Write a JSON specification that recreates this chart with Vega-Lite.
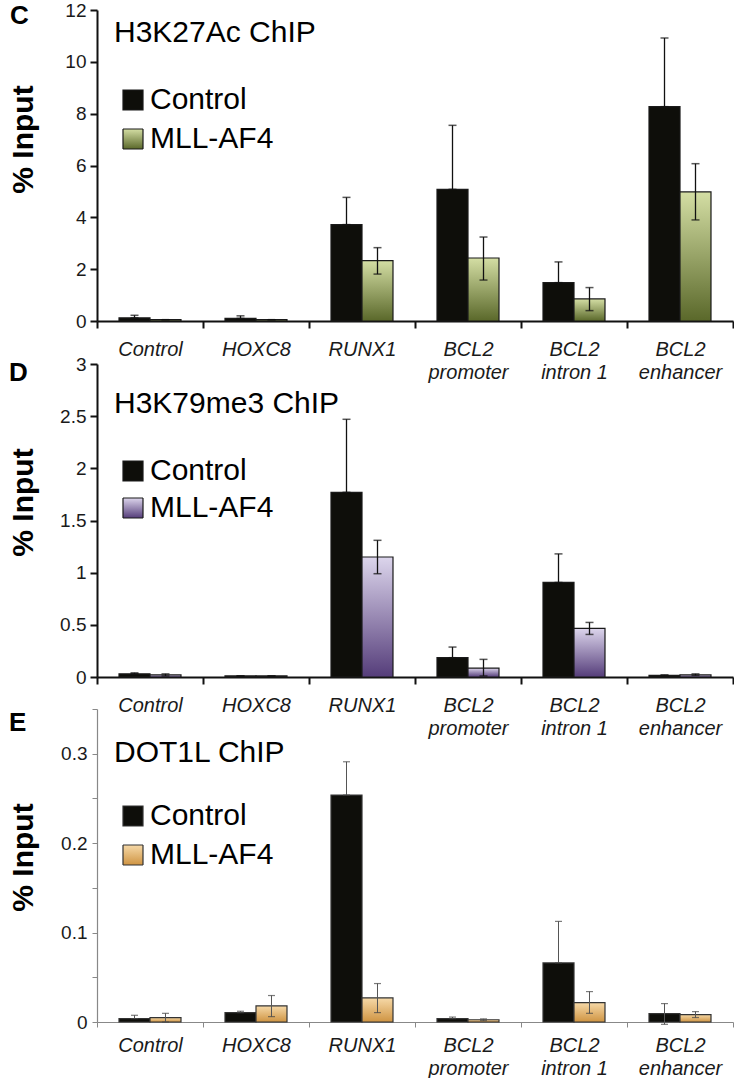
{
  "$schema": "https://vega.github.io/schema/vega-lite/v6.json",
  "padding": {"left": 8, "top": 1, "right": 0, "bottom": 0},
  "background": "white",
  "bounds": "flush",
  "spacing": 32,
  "resolve": {"scale": {"stroke": "independent", "strokeDash": "independent"}, "legend": {"stroke": "independent", "strokeDash": "independent"}},
  "config": {"view": {"stroke": null}, "font": "Liberation Sans",
    "legend": {"orient": "none", "titleLimit": 500, "titleFontSize": 30, "titleFontWeight": "normal", "titleFont": "Liberation Sans", "titleColor": "#000", "titlePadding": 37, "labelFontSize": 30, "labelFont": "Liberation Sans", "labelColor": "#000", "labelOffset": 2, "symbolType": "square", "symbolSize": 400, "symbolStrokeWidth": 1.2, "symbolOffset": 4, "legendX": 17}},
  "datasets": {
    "c": [
      {"gene": "Control", "group": "Control", "value": 0.12, "lo": 0.12, "hi": 0.22},
      {"gene": "Control", "group": "MLL-AF4", "value": 0.05, "lo": 0.05, "hi": 0.05},
      {"gene": "HOXC8", "group": "Control", "value": 0.10, "lo": 0.10, "hi": 0.20},
      {"gene": "HOXC8", "group": "MLL-AF4", "value": 0.05, "lo": 0.05, "hi": 0.05},
      {"gene": "RUNX1", "group": "Control", "value": 3.72, "lo": 3.72, "hi": 4.77},
      {"gene": "RUNX1", "group": "MLL-AF4", "value": 2.33, "lo": 1.81, "hi": 2.83},
      {"gene": "BCL2|promoter", "group": "Control", "value": 5.08, "lo": 5.08, "hi": 7.55},
      {"gene": "BCL2|promoter", "group": "MLL-AF4", "value": 2.43, "lo": 1.58, "hi": 3.24},
      {"gene": "BCL2|intron 1", "group": "Control", "value": 1.48, "lo": 1.48, "hi": 2.28},
      {"gene": "BCL2|intron 1", "group": "MLL-AF4", "value": 0.85, "lo": 0.40, "hi": 1.29},
      {"gene": "BCL2|enhancer", "group": "Control", "value": 8.27, "lo": 8.27, "hi": 10.92},
      {"gene": "BCL2|enhancer", "group": "MLL-AF4", "value": 4.98, "lo": 3.90, "hi": 6.07}
    ],
    "d": [
      {"gene": "Control", "group": "Control", "value": 0.03, "lo": 0.03, "hi": 0.04},
      {"gene": "Control", "group": "MLL-AF4", "value": 0.02, "lo": 0.01, "hi": 0.03},
      {"gene": "HOXC8", "group": "Control", "value": 0.01, "lo": 0.01, "hi": 0.01},
      {"gene": "HOXC8", "group": "MLL-AF4", "value": 0.01, "lo": 0.01, "hi": 0.01},
      {"gene": "RUNX1", "group": "Control", "value": 1.77, "lo": 1.77, "hi": 2.47},
      {"gene": "RUNX1", "group": "MLL-AF4", "value": 1.15, "lo": 0.99, "hi": 1.31},
      {"gene": "BCL2|promoter", "group": "Control", "value": 0.185, "lo": 0.185, "hi": 0.287},
      {"gene": "BCL2|promoter", "group": "MLL-AF4", "value": 0.086, "lo": 0.01, "hi": 0.169},
      {"gene": "BCL2|intron 1", "group": "Control", "value": 0.906, "lo": 0.906, "hi": 1.18},
      {"gene": "BCL2|intron 1", "group": "MLL-AF4", "value": 0.466, "lo": 0.408, "hi": 0.523},
      {"gene": "BCL2|enhancer", "group": "Control", "value": 0.015, "lo": 0.015, "hi": 0.02},
      {"gene": "BCL2|enhancer", "group": "MLL-AF4", "value": 0.02, "lo": 0.015, "hi": 0.03}
    ],
    "e": [
      {"gene": "Control", "group": "Control", "value": 0.0038, "lo": 0.0038, "hi": 0.0075},
      {"gene": "Control", "group": "MLL-AF4", "value": 0.0049, "lo": 0.0, "hi": 0.0097},
      {"gene": "HOXC8", "group": "Control", "value": 0.0105, "lo": 0.0105, "hi": 0.012},
      {"gene": "HOXC8", "group": "MLL-AF4", "value": 0.018, "lo": 0.006, "hi": 0.0296},
      {"gene": "RUNX1", "group": "Control", "value": 0.2538, "lo": 0.2538, "hi": 0.291},
      {"gene": "RUNX1", "group": "MLL-AF4", "value": 0.0269, "lo": 0.0105, "hi": 0.043},
      {"gene": "BCL2|promoter", "group": "Control", "value": 0.0038, "lo": 0.0038, "hi": 0.0055},
      {"gene": "BCL2|promoter", "group": "MLL-AF4", "value": 0.0025, "lo": 0.0015, "hi": 0.0035},
      {"gene": "BCL2|intron 1", "group": "Control", "value": 0.0661, "lo": 0.0661, "hi": 0.1125},
      {"gene": "BCL2|intron 1", "group": "MLL-AF4", "value": 0.0217, "lo": 0.0097, "hi": 0.034},
      {"gene": "BCL2|enhancer", "group": "Control", "value": 0.0094, "lo": -0.0026, "hi": 0.0206},
      {"gene": "BCL2|enhancer", "group": "MLL-AF4", "value": 0.0083, "lo": 0.005, "hi": 0.0116}
    ]
  },
  "vconcat": [
    {
      "data": {"name": "c"},
      "width": 636,
      "height": 311,
      "title": {"text": "C", "anchor": "start", "frame": "group", "dx": -87, "offset": -28, "fontSize": 26, "fontWeight": "bold", "font": "Liberation Sans", "color": "#000"},
      "encoding": {
        "x": {"field": "gene", "type": "nominal", "sort": null, "scale": {"paddingInner": 0, "paddingOuter": 0},
          "axis": {"title": null, "labelExpr": "isValid(datum.value) ? split(datum.value, '|') : ''", "labelAngle": 0, "labelFontStyle": "italic", "labelFontSize": 20, "labelFont": "Liberation Sans", "labelColor": "#1a1a1a", "labelLineHeight": 23, "labelPadding": 11, "tickBand": "extent", "tickSize": 7, "tickWidth": 2, "tickColor": "#111", "domainColor": "#111", "domainWidth": 2}},
        "xOffset": {"field": "group", "sort": null, "scale": {"domain": ["Control", "MLL-AF4"], "paddingInner": 0, "paddingOuter": 0.71}},
        "y": {"field": "value", "type": "quantitative", "scale": {"domain": [0, 12], "nice": false},
          "axis": {"values": [0, 2, 4, 6, 8, 10, 12], "grid": false, "labelFontSize": 19, "labelColor": "#1a1a1a", "labelPadding": 4, "tickSize": 7, "tickWidth": 2, "tickColor": "#111", "domainColor": "#111", "domainWidth": 2, "title": "% Input", "titleFontSize": 30, "titleFontWeight": "bold", "titleColor": "#000", "titleX": -59, "titleY": 129}}
      },
      "layer": [
        {
          "transform": [{"filter": "datum.group === 'Control'"}],
          "mark": {"type": "bar", "fill": "#0e0e0a", "stroke": "#1a1a1a", "strokeWidth": 1.2},
          "encoding": {
            "stroke": {"field": "group", "type": "nominal", "scale": {"range": ["#1a1a1a"]},
              "legend": {"legendY": 8, "title": "H3K27Ac ChIP"}}
          }
        },
        {
          "transform": [{"filter": "datum.group === 'MLL-AF4'"}],
          "mark": {"type": "bar", "fill": {"gradient": "linear", "x1": 0, "y1": 0, "x2": 0, "y2": 1, "stops": [{"offset": 0, "color": "#d4dea4"}, {"offset": 1, "color": "#5a682a"}]}, "stroke": "#1a1a1a", "strokeWidth": 1.2},
          "encoding": {
            "strokeDash": {"field": "group", "type": "nominal", "scale": {"range": [[1, 0]]},
              "legend": {"legendY": 114, "title": null}}
          }
        },
        {
          "mark": {"type": "rule", "color": "#111", "strokeWidth": 1.3},
          "encoding": {"y": {"field": "lo", "type": "quantitative"}, "y2": {"field": "hi"}}
        },
        {
          "mark": {"type": "tick", "orient": "horizontal", "color": "#111", "size": 8, "thickness": 1.5},
          "encoding": {"y": {"field": "hi", "type": "quantitative"}}
        },
        {
          "mark": {"type": "tick", "orient": "horizontal", "color": "#111", "size": 8, "thickness": 1.5},
          "encoding": {"y": {"field": "lo", "type": "quantitative"}}
        }
      ]
    },
    {
      "data": {"name": "d"},
      "width": 636,
      "height": 324,
      "title": {"text": "D", "anchor": "start", "frame": "group", "dx": -88, "offset": -33, "fontSize": 26, "fontWeight": "bold", "font": "Liberation Sans", "color": "#000"},
      "encoding": {
        "x": {"field": "gene", "type": "nominal", "sort": null, "scale": {"paddingInner": 0, "paddingOuter": 0},
          "axis": {"title": null, "labelExpr": "isValid(datum.value) ? split(datum.value, '|') : ''", "labelAngle": 0, "labelFontStyle": "italic", "labelFontSize": 20, "labelFont": "Liberation Sans", "labelColor": "#1a1a1a", "labelLineHeight": 23, "labelPadding": 11, "tickBand": "extent", "tickSize": 7, "tickWidth": 2, "tickColor": "#111", "domainColor": "#111", "domainWidth": 2}},
        "xOffset": {"field": "group", "sort": null, "scale": {"domain": ["Control", "MLL-AF4"], "paddingInner": 0, "paddingOuter": 0.71}},
        "y": {"field": "value", "type": "quantitative", "scale": {"domain": [0, 3], "nice": false, "range": [324, 11]},
          "axis": {"values": [0, 0.5, 1, 1.5, 2, 2.5, 3], "format": "~g", "grid": false, "labelFontSize": 19, "labelColor": "#1a1a1a", "labelPadding": 4, "tickSize": 7, "tickWidth": 2, "tickColor": "#111", "domainColor": "#111", "domainWidth": 2, "title": "% Input", "titleFontSize": 30, "titleFontWeight": "bold", "titleColor": "#000", "titleX": -59, "titleY": 149}}
      },
      "layer": [
        {
          "transform": [{"filter": "datum.group === 'Control'"}],
          "mark": {"type": "bar", "fill": "#0e0e0a", "stroke": "#1a1a1a", "strokeWidth": 1.2},
          "encoding": {
            "stroke": {"field": "group", "type": "nominal", "scale": {"range": ["#1a1a1a"]},
              "legend": {"legendY": 36, "title": "H3K79me3 ChIP"}}
          }
        },
        {
          "transform": [{"filter": "datum.group === 'MLL-AF4'"}],
          "mark": {"type": "bar", "fill": {"gradient": "linear", "x1": 0, "y1": 0, "x2": 0, "y2": 1, "stops": [{"offset": 0, "color": "#dcd5ec"}, {"offset": 1, "color": "#553d7a"}]}, "stroke": "#1a1a1a", "strokeWidth": 1.2},
          "encoding": {
            "strokeDash": {"field": "group", "type": "nominal", "scale": {"range": [[1, 0]]},
              "legend": {"legendY": 140, "title": null}}
          }
        },
        {
          "mark": {"type": "rule", "color": "#111", "strokeWidth": 1.3},
          "encoding": {"y": {"field": "lo", "type": "quantitative"}, "y2": {"field": "hi"}}
        },
        {
          "mark": {"type": "tick", "orient": "horizontal", "color": "#111", "size": 8, "thickness": 1.5},
          "encoding": {"y": {"field": "hi", "type": "quantitative"}}
        },
        {
          "mark": {"type": "tick", "orient": "horizontal", "color": "#111", "size": 8, "thickness": 1.5},
          "encoding": {"y": {"field": "lo", "type": "quantitative"}}
        }
      ]
    },
    {
      "data": {"name": "e"},
      "width": 636,
      "height": 313,
      "title": {"text": "E", "anchor": "start", "frame": "group", "dx": -88, "offset": -27, "fontSize": 26, "fontWeight": "bold", "font": "Liberation Sans", "color": "#000"},
      "encoding": {
        "x": {"field": "gene", "type": "nominal", "sort": null, "scale": {"paddingInner": 0, "paddingOuter": 0},
          "axis": {"title": null, "labelExpr": "isValid(datum.value) ? split(datum.value, '|') : ''", "labelAngle": 0, "labelFontStyle": "italic", "labelFontSize": 20, "labelFont": "Liberation Sans", "labelColor": "#1a1a1a", "labelLineHeight": 23, "labelPadding": 8, "tickBand": "extent", "tickSize": 5, "tickWidth": 1, "tickColor": "#888", "domainColor": "#888", "domainWidth": 1.2}},
        "xOffset": {"field": "group", "sort": null, "scale": {"domain": ["Control", "MLL-AF4"], "paddingInner": 0, "paddingOuter": 0.71}},
        "y": {"field": "value", "type": "quantitative", "scale": {"domain": [0, 0.35], "nice": false},
          "axis": {"values": [0, 0.05, 0.1, 0.15, 0.2, 0.25, 0.3, 0.35], "format": ".2~f", "labelExpr": "abs(datum.value * 10 - round(datum.value * 10)) < 0.001 && datum.value < 0.34 ? datum.label : ''", "grid": false, "labelFontSize": 19, "labelColor": "#1a1a1a", "labelPadding": 5, "tickSize": 5, "tickWidth": 1, "tickColor": "#888", "domainColor": "#888", "domainWidth": 1.2, "title": "% Input", "titleFontSize": 30, "titleFontWeight": "bold", "titleColor": "#000", "titleX": -59, "titleY": 148}}
      },
      "layer": [
        {
          "transform": [{"filter": "datum.group === 'Control'"}],
          "mark": {"type": "bar", "fill": "#0e0e0a", "stroke": "#333333", "strokeWidth": 1.2},
          "encoding": {
            "stroke": {"field": "group", "type": "nominal", "scale": {"range": ["#333333"]},
              "legend": {"legendY": 29, "title": "DOT1L ChIP", "titlePadding": 33}}
          }
        },
        {
          "transform": [{"filter": "datum.group === 'MLL-AF4'"}],
          "mark": {"type": "bar", "fill": {"gradient": "linear", "x1": 0, "y1": 0, "x2": 0, "y2": 1, "stops": [{"offset": 0, "color": "#f6d9a8"}, {"offset": 1, "color": "#cf9442"}]}, "stroke": "#333333", "strokeWidth": 1.2},
          "encoding": {
            "strokeDash": {"field": "group", "type": "nominal", "scale": {"range": [[1, 0]]},
              "legend": {"legendY": 131, "title": null}}
          }
        },
        {
          "mark": {"type": "rule", "color": "#555", "strokeWidth": 1},
          "encoding": {"y": {"field": "lo", "type": "quantitative"}, "y2": {"field": "hi"}}
        },
        {
          "mark": {"type": "tick", "orient": "horizontal", "color": "#444", "size": 7, "thickness": 1.2},
          "encoding": {"y": {"field": "hi", "type": "quantitative"}}
        },
        {
          "mark": {"type": "tick", "orient": "horizontal", "color": "#444", "size": 7, "thickness": 1.2},
          "encoding": {"y": {"field": "lo", "type": "quantitative"}}
        }
      ]
    }
  ]
}
